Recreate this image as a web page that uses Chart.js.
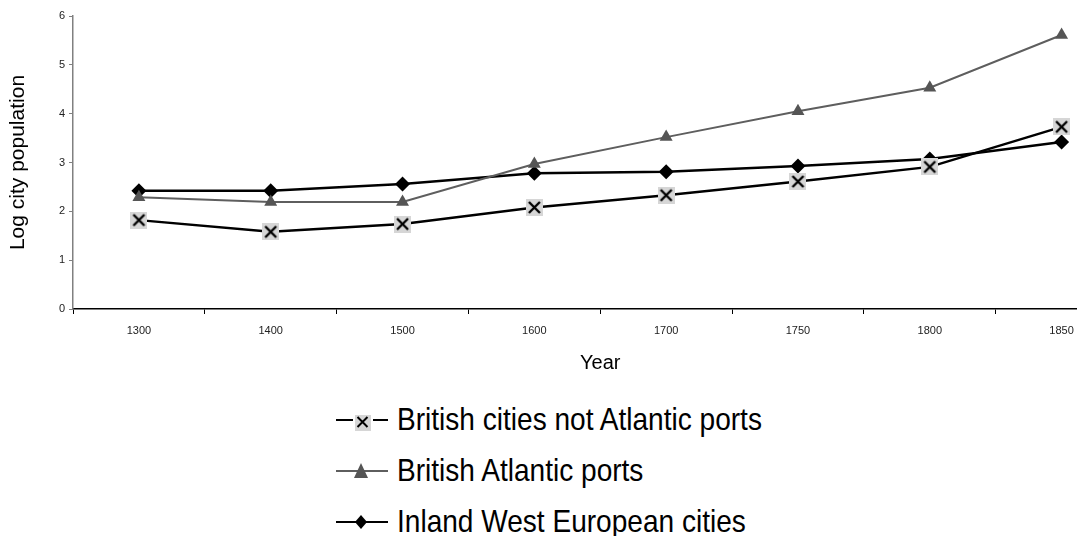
<!DOCTYPE html>
<html>
<head>
<meta charset="utf-8">
<script src="https://cdn.jsdelivr.net/npm/chart.js@4.4.1/dist/chart.umd.min.js"></script>
<style>
html, body { margin:0; padding:0; background:#fff; overflow:hidden; width:1077px; height:536px; }
#wrap { position:absolute; left:0; top:0; width:1138px; height:380px; }
#legend { position:absolute; left:336px; top:394px; font-family:"Liberation Sans", Arial, sans-serif; font-size:30.5px; color:#000; }
.row { height:51px; display:flex; align-items:center; white-space:nowrap; }
.row canvas { margin-right:9px; }
.row span { display:inline-block; transform:scaleX(0.92); transform-origin:left center; }
</style>
</head>
<body>
<div id="wrap"><canvas id="chart" width="1138" height="380"></canvas></div>
<div id="legend"></div>
<script>
'use strict';
// data
var years = ['1300', '1400', '1500', '1600', '1700', '1750', '1800', '1850'];
var britishNotPorts = [1.82, 1.58, 1.74, 2.08, 2.33, 2.61, 2.91, 3.73];
var atlanticPorts = [2.29, 2.19, 2.19, 2.97, 3.52, 4.05, 4.53, 5.61];
var inlandWestEurope = [2.42, 2.42, 2.56, 2.78, 2.81, 2.93, 3.07, 3.42];
var seriesNames = ['British cities not Atlantic ports', 'British Atlantic ports', 'Inland West European cities'];
var yTicks = [0, 1, 2, 3, 4, 5, 6];

var fontFamily = '"Liberation Sans", Arial, sans-serif';

//gray square with a black cross, used as point style
function makeCrossMarker(size, cross, lw){
  var c = document.createElement('canvas');
  c.width = size;
  c.height = size;
  var g = c.getContext('2d');
  g.fillStyle = '#d6d6d6';
  g.fillRect(0, 0, size, size);
  g.strokeStyle = '#000';
  g.lineWidth = lw;
  var a = (size - cross) / 2, b = a + cross;
  g.beginPath();
  g.moveTo(a, a); g.lineTo(b, b);
  g.moveTo(b, a); g.lineTo(a, b);
  g.stroke();
  return c;
}

var crossMarker = makeCrossMarker(17, 11, 2.4);

var ctx = document.getElementById('chart').getContext('2d');
var chart = new Chart(ctx, {
  type: 'line',
  data: {
    labels: years,
    datasets: [{
      label: seriesNames[0],
      data: britishNotPorts,
      borderColor: '#000',
      borderWidth: 2.5,
      pointStyle: crossMarker,
      pointRadius: 8
    },
    {
      label: seriesNames[1],
      data: atlanticPorts,
      borderColor: '#5e5e5e',
      borderWidth: 2,
      pointStyle: 'triangle',
      pointRadius: 7.5,
      pointBackgroundColor: '#555',
      pointBorderColor: '#555',
      pointBorderWidth: 0
    },
    {
      label: seriesNames[2],
      data: inlandWestEurope,
      borderColor: '#000',
      borderWidth: 2.5,
      pointStyle: 'rectRot',
      pointRadius: 7.5,
      pointBackgroundColor: '#000',
      pointBorderColor: '#000',
      pointBorderWidth: 0
    }]
  },
  options: {
    responsive: false,
    animation: false,
    events: [],
    layout: { padding: { top: 16, right: 0, left: 0, bottom: 0 } },
    plugins: { legend: { display: false }, tooltip: { enabled: false } },
    scales: {
      x: {
        offset: true,
        grid: { offset: true, drawOnChartArea: false, tickLength: 5, color: '#000', lineWidth: 1 },
        border: { color: '#000', width: 1.5 },
        ticks: { color: '#222', padding: 10, maxRotation: 0, font: { family: fontFamily, size: 11 } },
        title: { display: true, text: 'Year', color: '#000', padding: 5, font: { family: fontFamily, size: 20 } },
        afterFit: function(axis){ axis.height = 71; }
      },
      y: {
        min: 0,
        max: 6,
        afterBuildTicks: function(axis){
          axis.ticks = yTicks.map(function(v){ return { value: v }; });
        },
        grid: { drawOnChartArea: false, tickLength: 4, color: '#808080' },
        border: { color: '#808080', width: 1.5 },
        ticks: { color: '#222', padding: 4, font: { family: fontFamily, size: 11 } },
        title: { display: true, text: 'Log city population', color: '#000', padding: 6, font: { family: fontFamily, size: 21 } },
        afterFit: function(axis){ axis.width = 73; }
      }
    }
  }
});

//html legend stacked one item per row
function drawLegendIcon(i){
  var c = document.createElement('canvas');
  c.width = 52;
  c.height = 26;
  var g = c.getContext('2d');
  var ds = chart.data.datasets[i];
  var y = 13;
  g.strokeStyle = ds.borderColor;
  g.lineWidth = 2;
  g.beginPath();
  if(i === 0){
    g.moveTo(0, y); g.lineTo(17, y);
    g.moveTo(37, y); g.lineTo(52, y);
    g.stroke();
    g.fillStyle = '#d6d6d6';
    g.fillRect(19, 8, 16, 16);
    g.lineWidth = 2;
    g.beginPath();
    g.moveTo(21.5, 10); g.lineTo(31.5, 20);
    g.moveTo(31.5, 10); g.lineTo(21.5, 20);
    g.stroke();
  } else if(i === 1){
    g.moveTo(0, y); g.lineTo(52, y);
    g.stroke();
    g.fillStyle = '#555';
    g.beginPath();
    g.moveTo(25, 5); g.lineTo(32, 20); g.lineTo(18, 20);
    g.closePath();
    g.fill();
  } else {
    g.moveTo(0, y); g.lineTo(52, y);
    g.stroke();
    g.fillStyle = '#000';
    g.beginPath();
    g.moveTo(25, 6); g.lineTo(31, 13); g.lineTo(25, 20); g.lineTo(19, 13);
    g.closePath();
    g.fill();
  }
  return c;
}

var legend = document.getElementById('legend');
for(var i = 0; i < seriesNames.length; i++){
  var row = document.createElement('div');
  row.className = 'row';
  row.appendChild(drawLegendIcon(i));
  var span = document.createElement('span');
  span.textContent = seriesNames[i];
  row.appendChild(span);
  legend.appendChild(row);
}
</script>
</body>
</html>
